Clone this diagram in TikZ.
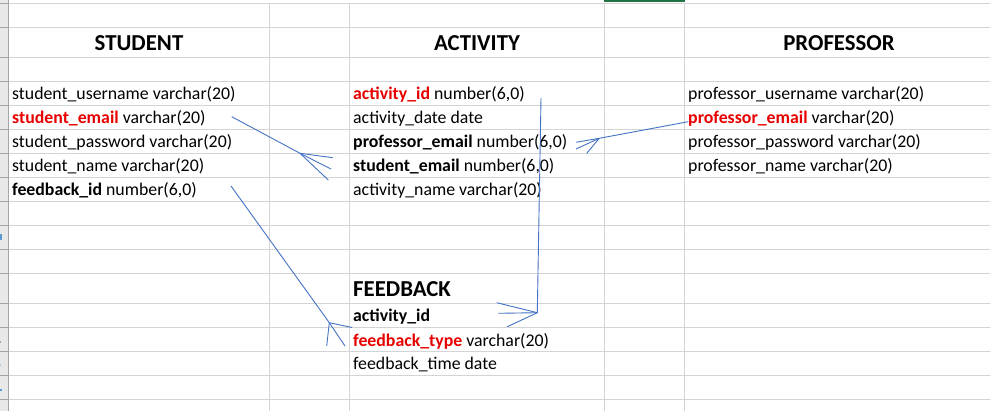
\documentclass[tikz,border=0pt]{standalone}
\usepackage{fontspec}
\setmainfont{Carlito}
\definecolor{gridline}{RGB}{212,212,212}
\definecolor{hdrfill}{RGB}{232,232,232}
\definecolor{hdrline}{RGB}{165,165,165}
\definecolor{selgreen}{RGB}{33,115,70}
\definecolor{pkred}{RGB}{232,0,0}
\definecolor{linkblue}{RGB}{68,114,196}
\definecolor{numblue}{RGB}{91,155,213}
\newcommand{\pk}[1]{\textcolor{pkred}{\bfseries #1}}
\newcommand{\fk}[1]{{\bfseries #1}}
\begin{document}
\begin{tikzpicture}[x=1pt,y=-1pt,
  field/.style={anchor=base west,inner sep=0pt,text=black,
    font=\fontsize{17.8}{20}\selectfont},
  title/.style={anchor=base,inner sep=0pt,text=black,
    font=\fontsize{22.8}{26}\selectfont\bfseries},
  ftitle/.style={title,anchor=base west},
  link/.style={draw=linkblue,line width=0.9pt,line join=miter},
  foot/.style={draw=linkblue,line width=0.9pt}]
\useasboundingbox (0,0) rectangle (990,411);
\fill[white] (0,0) rectangle (990,411);

% sheet grid (half-unit offsets keep the hairlines on whole pixel rows)
\foreach \y in {3,27,57,81,105,129,153,177,201,225,249,273,303,327,351,375,399}
  \draw[gridline,line width=1pt] (8,\y+0.5) -- (990,\y+0.5);
\foreach \x in {269,349,604,684}
  \draw[gridline,line width=1pt] (\x+0.5,3) -- (\x+0.5,411);

% row header strip
\fill[hdrfill] (0,0) rectangle (8,411);
\foreach \y in {3,27,57,81,105,129,153,177,201,225,249,273,303,327,351,375,399}
  \draw[hdrline,line width=1pt] (0,\y+0.5) -- (8,\y+0.5);
\draw[hdrline,line width=1pt] (8.5,0) -- (8.5,411);
\fill[numblue] (0,234) rectangle (1.5,240);
\fill[hdrline] (0,341) rectangle (1.2,343);
\fill[numblue!50] (0,364) rectangle (1.2,366);
\fill[numblue] (0,389) rectangle (1.5,391);

% selected column marker
\draw[selgreen,line width=2pt] (604,1) -- (685,1);

% STUDENT
\node[title] (stuT) at (139,51) {STUDENT};
\node[field] (stuUser) at (12,100) {student\_username varchar(20)};
\node[field] (stuMail) at (12,124) {\pk{student\_email} varchar(20)};
\node[field] (stuPass) at (12,148) {student\_password varchar(20)};
\node[field] (stuName) at (12,172) {student\_name varchar(20)};
\node[field] (stuFb)   at (12,196) {\fk{feedback\_id} number(6,0)};

% ACTIVITY
\node[title] (actT) at (477,51) {ACTIVITY};
\node[field] (actId)   at (353,100) {\pk{activity\_id} number(6,0)};
\node[field] (actDate) at (353,124) {activity\_date date};
\node[field] (actProf) at (353,148) {\fk{professor\_email} number(6,0)};
\node[field] (actStu)  at (353,172) {\fk{student\_email} number(6,0)};
\node[field] (actName) at (353,196) {activity\_name varchar(20)};

% PROFESSOR
\node[title] (profT) at (839,51) {PROFESSOR};
\node[field] (profUser) at (688,100) {professor\_username varchar(20)};
\node[field] (profMail) at (688,124) {\pk{professor\_email} varchar(20)};
\node[field] (profPass) at (688,148) {professor\_password varchar(20)};
\node[field] (profName) at (688,172) {professor\_name varchar(20)};

% FEEDBACK
\node[ftitle] (fbT) at (353,297) {FEEDBACK};
\node[field] (fbAct)  at (353,322) {\fk{activity\_id}};
\node[field] (fbType) at (353,346) {\pk{feedback\_type} varchar(20)};
\node[field] (fbTime) at (353,370) {feedback\_time date};

% connector end points
\coordinate (sA)  at (231.7,116.7);
\coordinate (sV)  at (300,153.3);
\coordinate (sE)  at (331,169);
\coordinate (sP1) at (332.7,157.7);
\coordinate (sP2) at (328.3,180);

\coordinate (pA)  at (688.3,121.7);
\coordinate (pV)  at (599.3,138.3);
\coordinate (pE)  at (576,142.3);
\coordinate (pP1) at (576,149);
\coordinate (pP2) at (586.7,153.3);

\coordinate (aA)  at (541,98);
\coordinate (aV)  at (537.3,312.7);
\coordinate (aE)  at (498.3,313.3);
\coordinate (aP1) at (496.7,302.7);
\coordinate (aP2) at (507.3,326.7);

\coordinate (fA)  at (231,186);
\coordinate (fV)  at (329.3,322.7);
\coordinate (fE)  at (345,346);
\coordinate (fP1) at (326.7,346);
\coordinate (fP2) at (352,327.5);

% relationship lines with crow's feet
\draw[link] (sA) -- (sV) -- (sE);
\draw[foot] (sV) -- (sP1) (sV) -- (sP2);
\draw[link] (pA) -- (pV) -- (pE);
\draw[foot] (pV) -- (pP1) (pV) -- (pP2);
\draw[link] (aA) -- (aV) -- (aE);
\draw[foot] (aV) -- (aP1) (aV) -- (aP2);
\draw[link] (fA) -- (fV) -- (fE);
\draw[foot] (fV) -- (fP1) (fV) -- (fP2);
\end{tikzpicture}
\end{document}
